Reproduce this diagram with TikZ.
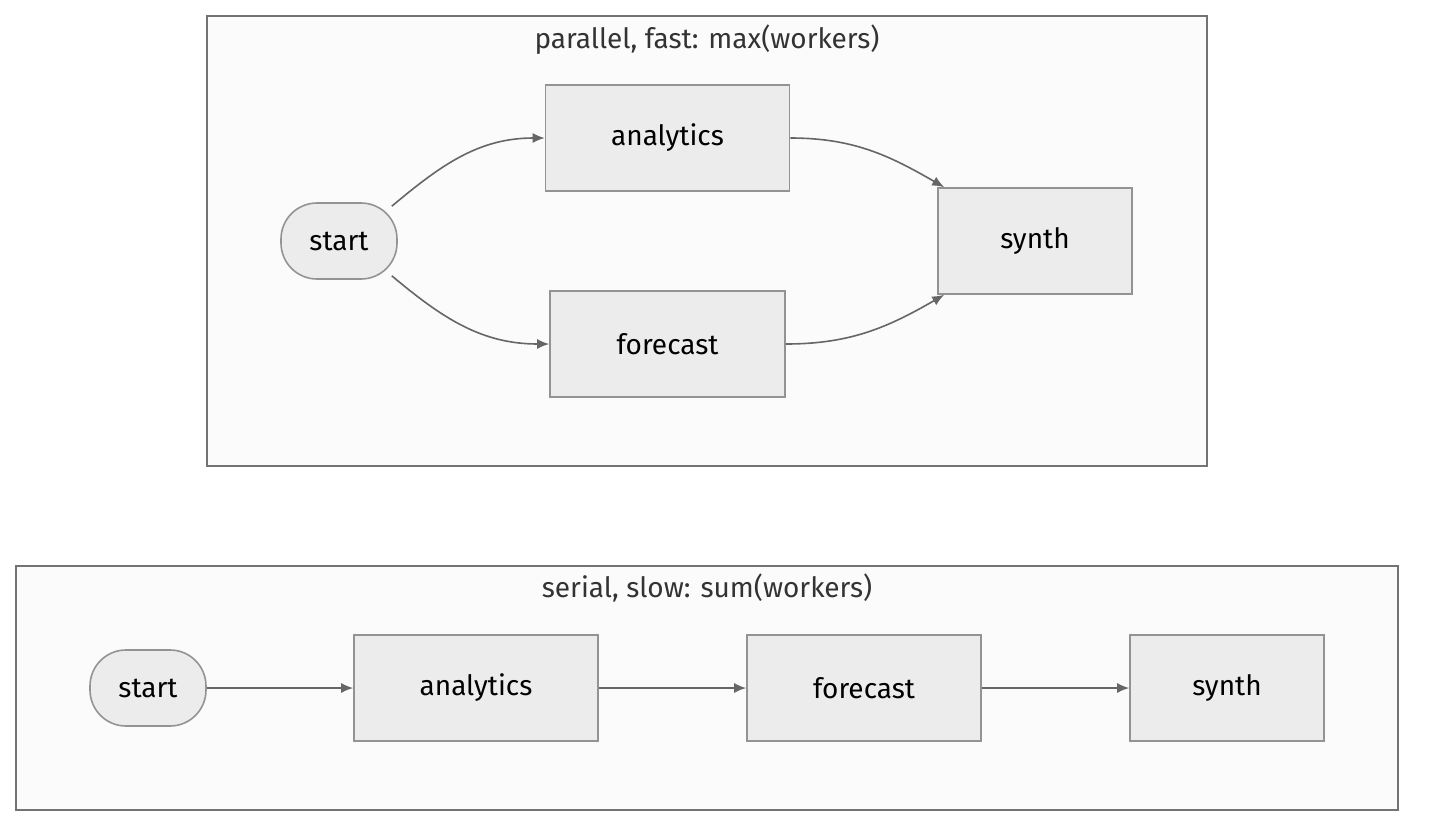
\documentclass[tikz,border=0pt]{standalone}
\usepackage{fontspec}
\setmainfont{Fira Sans}
\usetikzlibrary{positioning, arrows.meta}
\tikzset{
    x=0.5pt, y=-0.5pt,
    every node/.style={font=\fontsize{14}{16}\selectfont},
    box/.style={draw=gray!85, fill=gray!15, line width=0.8pt, inner sep=0pt}, % task boxes
    pill/.style={box, rounded corners=18pt, minimum width=58pt, minimum height=38pt},
    cluster/.style={draw=gray!110, fill=gray!3, line width=0.8pt},
    link/.style={-{Latex[length=6pt,width=5pt]}, draw=gray!120, line width=0.8pt},
}
\begin{document}
\begin{tikzpicture}
\useasboundingbox (0,0) rectangle (1430,836);
% parallel group
\draw[cluster] (207,16) rectangle (1207,466);
\node[text=black!80] (ptitle) at (707,40) {parallel, fast: max(workers)};
\node[pill] (pstart) at (339,241) {start};
\node[box, minimum width=122pt, minimum height=53pt] (pana) at (667.5,138) {analytics};
\node[box, minimum width=117.5pt, minimum height=53pt] (pfore) at (667.5,344) {forecast};
\node[box, minimum width=97pt, minimum height=53pt] (psynth) at (1035,241) {synth};
\draw[link] (pstart.north east) ++(-6,4) coordinate (a1) to[out=40,in=180] (pana.west);
\draw[link] (pstart.south east) ++(-6,-4) coordinate (a2) to[out=-40,in=180] (pfore.west);
\draw[link] (pana.east) to[out=0,in=150] ([xshift=3.5pt]psynth.north west);
\draw[link] (pfore.east) to[out=0,in=-150] ([xshift=3.5pt]psynth.south west);
% serial group
\draw[cluster] (16,566) rectangle (1398,810);
\node[text=black!80] (stitle) at (707,588) {serial, slow: sum(workers)};
\node[pill] (sstart) at (148,688) {start};
\node[box, minimum width=122pt, minimum height=53pt] (sana) at (476,688) {analytics};
\node[box, minimum width=117pt, minimum height=53pt] (sfore) at (864,688) {forecast};
\node[box, minimum width=97pt, minimum height=53pt] (ssynth) at (1227,688) {synth};
\draw[link] (sstart) -- (sana);
\draw[link] (sana) -- (sfore);
\draw[link] (sfore) -- (ssynth);
\end{tikzpicture}
\end{document}
